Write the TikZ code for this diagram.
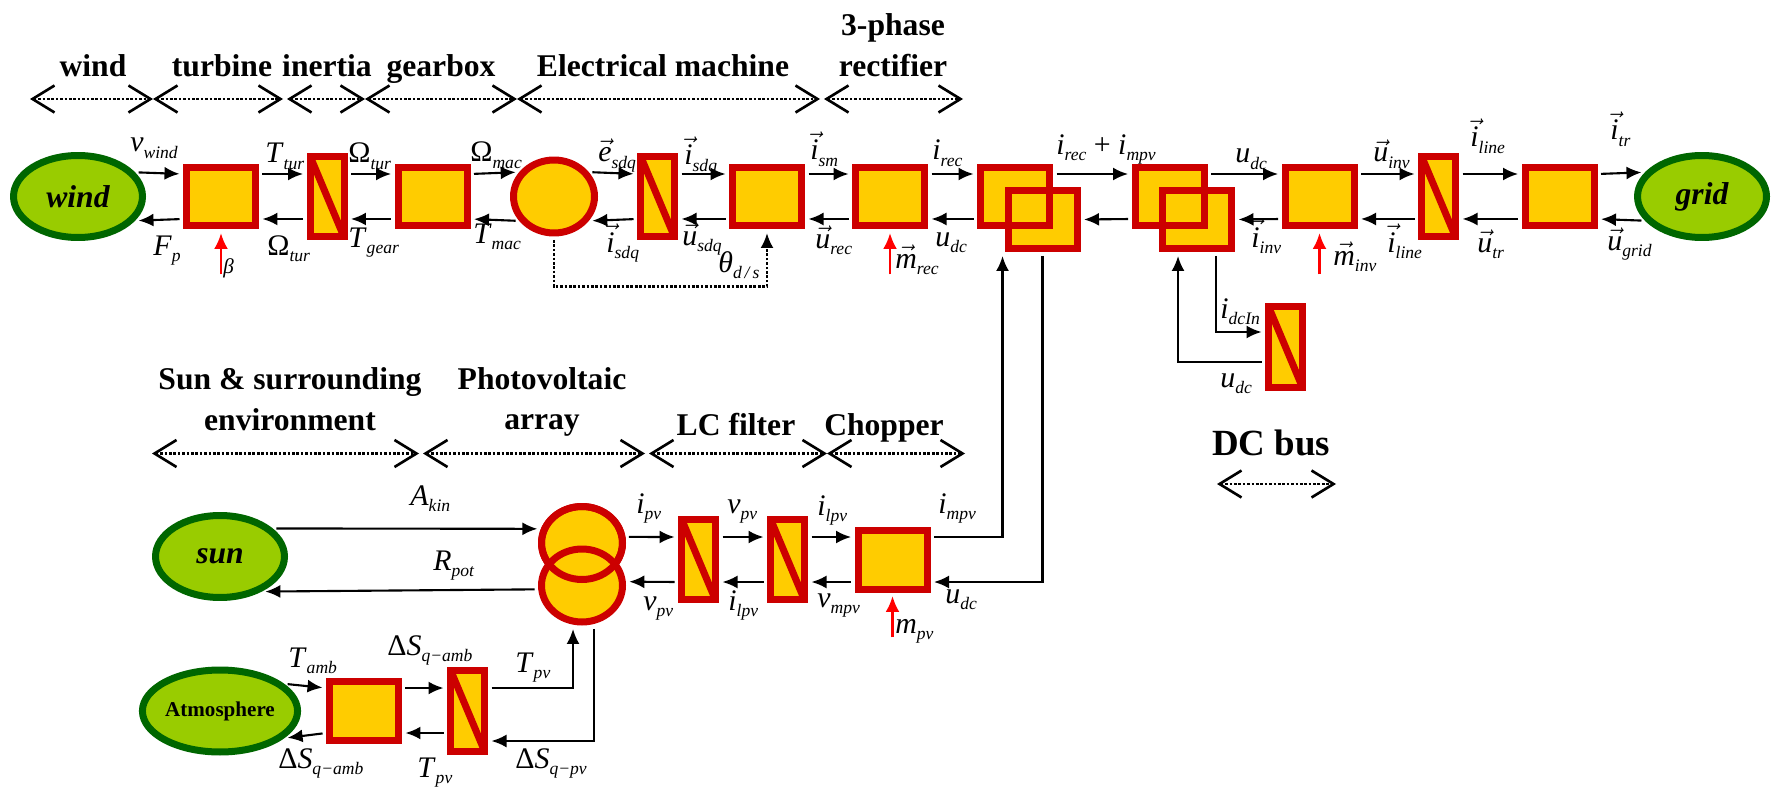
\documentclass[tikz,border=0pt]{standalone}
\usepackage{fontspec}
\setmainfont{Liberation Serif}
\usepackage{xcolor}
\usetikzlibrary{positioning,arrows.meta,shapes.geometric,calc}
\definecolor{emrred}{HTML}{CC0000}
\definecolor{emryellow}{HTML}{FFCC00}
\definecolor{srcgreen}{HTML}{006600}
\definecolor{srclight}{HTML}{99CC00}
\newcommand{\sg}[2]{\textit{#1}\raisebox{-0.5ex}{\fontsize{10}{10}\selectfont\textit{#2}}}
\newcommand{\vsg}[2]{$\vec{\mbox{\textit{#1}}}$\raisebox{-0.5ex}{\fontsize{10}{10}\selectfont\textit{#2}}}
\tikzset{
src/.style={
ellipse,
draw=srcgreen,
fill=srclight,
line width=0.14cm,
minimum width=2.58cm,
minimum height=1.64cm,
inner sep=0pt,
font=\fontsize{18}{20}\selectfont\bfseries\itshape
},
conv/.style={
rectangle,
draw=emrred,
fill=emryellow,
line width=0.14cm,
minimum width=1.38cm,
minimum height=1.18cm,
inner sep=0pt
},
accu/.style={
rectangle,
draw=emrred,
fill=emryellow,
line width=0.14cm,
minimum width=0.68cm,
minimum height=1.62cm,
inner sep=0pt,
path picture={\draw[emrred,line width=0.14cm] (path picture bounding box.north west) -- (path picture bounding box.south east);}
},
elec/.style={
ellipse,
draw=emrred,
fill=emryellow,
line width=0.14cm,
minimum width=1.62cm,
minimum height=1.46cm,
inner sep=0pt
},
arr/.style={
-{Latex[length=3mm,width=2.6mm]},
line width=1.2pt,
shorten <=0.7mm,
shorten >=0.7mm
},
ctrl/.style={
-{Latex[length=3.2mm,width=2.8mm]},
red,
line width=1.5pt,
shorten >=0.7mm
},
fbk/.style={
-{Latex[length=3mm,width=2.6mm]},
densely dotted,
line width=1.5pt,
shorten <=0.7mm,
shorten >=0.7mm
},
span/.style={
{Straight Barb[length=4.4mm,width=5.4mm,line width=1.5pt]}-{Straight Barb[length=4.4mm,width=5.4mm,line width=1.5pt]},
densely dotted,
line width=1.5pt
},
hdr/.style={
font=\fontsize{18}{23}\selectfont\bfseries,
align=center,
inner sep=0pt
},
lab/.style={
font=\fontsize{17}{19}\selectfont,
inner sep=0pt,
anchor=base west
}
}

\begin{document}
\begin{tikzpicture}[x=0.02cm,y=-0.02cm]
\useasboundingbox (0,0) rectangle (1773,787);

% headers, wind chain
\node[hdr,anchor=base](hwind) at (93,77){wind};
\node[hdr,anchor=base](hturb) at (222,77){turbine};
\node[hdr,anchor=base](hiner) at (327,77){inertia};
\node[hdr,anchor=base](hgear) at (441,77){gearbox};
\node[hdr,anchor=base](hmach) at (663,77){Electrical machine};
\node[hdr](hrect) at (893,45){3-phase\\rectifier};
\coordinate (t0) at (30,99);
\coordinate (t1) at (153,99);
\coordinate (t2a) at (283,99);
\coordinate (t2b) at (287,99);
\coordinate (t3) at (365,99);
\coordinate (t4) at (517,99);
\coordinate (t5a) at (820,99);
\coordinate (t5b) at (824,99);
\coordinate (t6) at (963,99);
\draw[span](t0)--(t1);
\draw[span](t1)--(t2a);
\draw[span](t2b)--(t3);
\draw[span](t3)--(t4);
\draw[span](t4)--(t5a);
\draw[span](t5b)--(t6);

% headers, pv chain
\node[hdr](hsun) at (290,399){Sun \& surrounding\\environment};
\node[hdr](hpv) at (542,402){Photovoltaic\\array};
\node[hdr,anchor=base](hlc) at (736,435){LC filter};
\node[hdr,anchor=base](hchop) at (884,435){Chopper};
\coordinate (b0) at (152,453.5);
\coordinate (b1a) at (419,453.5);
\coordinate (b1b) at (423,453.5);
\coordinate (b2a) at (645,453.5);
\coordinate (b2b) at (649,453.5);
\coordinate (b3) at (827,453.5);
\coordinate (b4) at (965,453.5);
\draw[span](b0)--(b1a);
\draw[span](b1b)--(b2a);
\draw[span](b2b)--(b3);
\draw[span](b3)--(b4);
\node[hdr,anchor=base,font=\fontsize{21}{24}\selectfont\bfseries](hbus) at (1271,455){DC bus};
\coordinate (d0) at (1217,484);
\coordinate (d1) at (1336,484);
\draw[span](d0)--(d1);

% wind chain
\node[src](wind) at (78,196.5){wind};
\node[conv](tur) at (221,196.5){};
\node[accu](iner) at (327,196.5){};
\node[conv](gear) at (432.5,196.5){};
\node[elec](mach) at (554,196.5){};
\node[accu](coup) at (657.5,196.5){};
\node[conv](stat) at (767,196.5){};
\node[conv](rec) at (890,196.5){};
\node[conv](ds1a) at (1015,196.5){};
\node[conv](ds1b) at (1042.5,219.5){};
\node[conv,fill=none](ds1c) at (ds1a){};
\node[conv](ds2a) at (1169.5,196.5){};
\node[conv](ds2b) at (1197,219.5){};
\node[conv,fill=none](ds2c) at (ds2a){};
\node[conv](inv) at (1319.5,196.5){};
\node[accu](line) at (1438.5,196.5){};
\node[conv](tr) at (1559.5,196.5){};
\node[src](grid) at (1702,196.5){grid};
\node[accu](cap) at (1285.5,347){};

% pv chain
\node[src](sun) at (220,556.5){sun};
\node[elec](pvA) at (582,543){};
\node[elec](pvB) at (582,585.5){};
\node[elec,fill=none](pvC) at (pvA){};
\node[accu](lc1) at (698.5,559.5){};
\node[accu](lc2) at (787.5,559.5){};
\node[conv](chop) at (892.5,559.5){};
\node[src,font=\fontsize{12}{14}\selectfont\bfseries](atm) at (220,711){Atmosphere};
\node[conv](th) at (364,710.5){};
\node[accu](thc) at (467.5,710.5){};

% wind chain connectors
\draw[arr](wind.23)--([yshift=0.45cm]tur.west);
\draw[arr]([yshift=-0.45cm]tur.west)--(wind.-23);
\draw[arr]([yshift=0.45cm]tur.east)--([yshift=0.45cm]iner.west);
\draw[arr]([yshift=-0.45cm]iner.west)--([yshift=-0.45cm]tur.east);
\draw[arr]([yshift=0.45cm]iner.east)--([yshift=0.45cm]gear.west);
\draw[arr]([yshift=-0.45cm]gear.west)--([yshift=-0.45cm]iner.east);
\draw[arr]([yshift=0.45cm]gear.east)--(mach.145);
\draw[arr](mach.-145)--([yshift=-0.45cm]gear.east);
\draw[arr](mach.35)--([yshift=0.45cm]coup.west);
\draw[arr]([yshift=-0.45cm]coup.west)--(mach.-35);
\draw[arr]([yshift=0.45cm]coup.east)--([yshift=0.45cm]stat.west);
\draw[arr]([yshift=-0.45cm]stat.west)--([yshift=-0.45cm]coup.east);
\draw[arr]([yshift=0.45cm]stat.east)--([yshift=0.45cm]rec.west);
\draw[arr]([yshift=-0.45cm]rec.west)--([yshift=-0.45cm]stat.east);
\draw[arr]([yshift=0.45cm]rec.east)--([yshift=0.45cm]ds1a.west);
\draw[arr]([yshift=-0.45cm]ds1a.west)--([yshift=-0.45cm]rec.east);
\draw[arr]([yshift=0.45cm]ds1a.east)--([yshift=0.45cm]ds2a.west);
\draw[arr]([yshift=-0.45cm]ds2a.west)--(ds1b.east);
\draw[arr]([yshift=0.45cm]ds2a.east)--([yshift=0.45cm]inv.west);
\draw[arr]([yshift=-0.45cm]inv.west)--(ds2b.east);
\draw[arr]([yshift=0.45cm]inv.east)--([yshift=0.45cm]line.west);
\draw[arr]([yshift=-0.45cm]line.west)--([yshift=-0.45cm]inv.east);
\draw[arr]([yshift=0.45cm]line.east)--([yshift=0.45cm]tr.west);
\draw[arr]([yshift=-0.45cm]tr.west)--([yshift=-0.45cm]line.east);
\draw[arr]([yshift=0.45cm]tr.east)--(grid.157);
\draw[arr](grid.-157)--([yshift=-0.45cm]tr.east);
\draw[fbk](mach.south)--++(0,50)-|(stat.south);
\draw[arr]([xshift=0.38cm]ds2b.south)|-([yshift=0.3cm]cap.west);
\draw[arr]([yshift=-0.3cm]cap.west)-|([xshift=-0.38cm]ds2b.south);
\draw[ctrl]([yshift=-0.9cm]tur.south)--(tur.south);
\draw[ctrl]([yshift=-0.9cm]rec.south)--(rec.south);
\draw[ctrl]([yshift=-0.9cm]inv.south)--(inv.south);

% pv chain connectors
\draw[arr](sun.28)--(pvA.161);
\draw[arr](pvB.185)--(sun.-40);
\draw[arr](pvA.8)--([yshift=0.45cm]lc1.west);
\draw[arr]([yshift=-0.45cm]lc1.west)--(pvB.5);
\draw[arr]([yshift=0.45cm]lc1.east)--([yshift=0.45cm]lc2.west);
\draw[arr]([yshift=-0.45cm]lc2.west)--([yshift=-0.45cm]lc1.east);
\draw[arr]([yshift=0.45cm]lc2.east)--([yshift=0.45cm]chop.west);
\draw[arr]([yshift=-0.45cm]chop.west)--([yshift=-0.45cm]lc2.east);
\draw[arr]([yshift=0.45cm]chop.east)-|([xshift=-0.8cm]ds1b.south);
\draw[arr](ds1b.south)|-([yshift=-0.45cm]chop.east);
\draw[ctrl]([yshift=-0.9cm]chop.south)--(chop.south);
\draw[arr](atm.23)--([yshift=0.45cm]th.west);
\draw[arr]([yshift=-0.45cm]th.west)--(atm.-23);
\draw[arr]([yshift=0.45cm]th.east)--([yshift=0.45cm]thc.west);
\draw[arr]([yshift=-0.45cm]thc.west)--([yshift=-0.45cm]th.east);
\draw[arr]([yshift=0.45cm]thc.east)-|([xshift=-0.18cm]pvB.south);
\draw[arr]([xshift=0.24cm]pvB.south)|-([yshift=-0.61cm]thc.east);

% labels, wind chain
\node[lab](l-vwind) at (130,152){\sg{v}{wind}};
\node[lab](l-ttur) at (265,163){\sg{T}{tur}};
\node[lab](l-wtur) at (348,163){\sg{\upshape Ω}{tur}};
\node[lab](l-wmac) at (470,162){\sg{\upshape Ω}{mac}};
\node[lab](l-fp) at (153,255){\sg{F}{p}};
\node[lab](l-wtur2) at (267,255){\sg{\upshape Ω}{tur}};
\node[lab](l-tgear) at (348,247){\sg{T}{gear}};
\node[lab](l-tmac) at (473,243){\sg{T}{mac}};
\node[lab,font=\fontsize{12}{13}\selectfont](l-beta) at (223,273){\textit{β}};
\node[lab](l-esdq) at (598,162){\vsg{e}{sdq}};
\node[lab](l-isdq) at (684,165){\vsg{i}{sdq}};
\node[lab](l-ism) at (810,160){\vsg{i}{sm}};
\node[lab](l-irec) at (932,160){\sg{i}{rec}};
\node[lab](l-isdq2) at (606,252){\vsg{i}{sdq}};
\node[lab](l-usdq) at (682,245){\vsg{u}{sdq}};
\node[lab](l-urec) at (815,248){\vsg{u}{rec}};
\node[lab](l-udc1) at (935,246){\sg{u}{dc}};
\node[lab](l-theta) at (718,272){\sg{θ}{d\,/\,s}};
\node[lab](l-mrec) at (895,268){\vsg{m}{rec}};
\node[lab](l-isum) at (1056,154){\sg{i}{rec} + \sg{i}{mpv}};
\node[lab](l-udc2) at (1235,163){\sg{u}{dc}};
\node[lab](l-uinv) at (1373,162){\vsg{u}{inv}};
\node[lab](l-iline) at (1470,147){\vsg{i}{line}};
\node[lab](l-itr) at (1610,140){\vsg{i}{tr}};
\node[lab](l-iinv) at (1251,247){\vsg{i}{inv}};
\node[lab](l-minv) at (1333,265){\vsg{m}{inv}};
\node[lab](l-iline2) at (1387,252){\vsg{i}{line}};
\node[lab](l-utr) at (1477,252){\vsg{u}{tr}};
\node[lab](l-ugrid) at (1607,250){\vsg{u}{grid}};
\node[lab](l-idcin) at (1220,318){\sg{i}{dcIn}};
\node[lab](l-udc3) at (1220,387){\sg{u}{dc}};

% labels, pv chain
\node[lab](l-akin) at (410,505){\sg{A}{kin}};
\node[lab](l-rpot) at (433,570){\sg{R}{pot}};
\node[lab](l-ipv) at (636,513){\sg{i}{pv}};
\node[lab](l-vpv) at (727,513){\sg{v}{pv}};
\node[lab](l-ilpv) at (817,515){\sg{i}{lpv}};
\node[lab](l-impv) at (938,513){\sg{i}{mpv}};
\node[lab](l-vpv2) at (643,610){\sg{v}{pv}};
\node[lab](l-ilpv2) at (728,610){\sg{i}{lpv}};
\node[lab](l-vmpv) at (817,607){\sg{v}{mpv}};
\node[lab](l-udc4) at (945,603){\sg{u}{dc}};
\node[lab](l-mpv) at (895,633){\sg{m}{pv}};
\node[lab](l-tamb) at (288,667){\sg{T}{amb}};
\node[lab](l-dsamb) at (387,655){\sg{\upshape Δ\itshape S}{q−amb}};
\node[lab](l-tpv) at (515,672){\sg{T}{pv}};
\node[lab](l-dsamb2) at (278,768){\sg{\upshape Δ\itshape S}{q−amb}};
\node[lab](l-tpv2) at (417,777){\sg{T}{pv}};
\node[lab](l-dspv) at (515,768){\sg{\upshape Δ\itshape S}{q−pv}};
\end{tikzpicture}
\end{document}
